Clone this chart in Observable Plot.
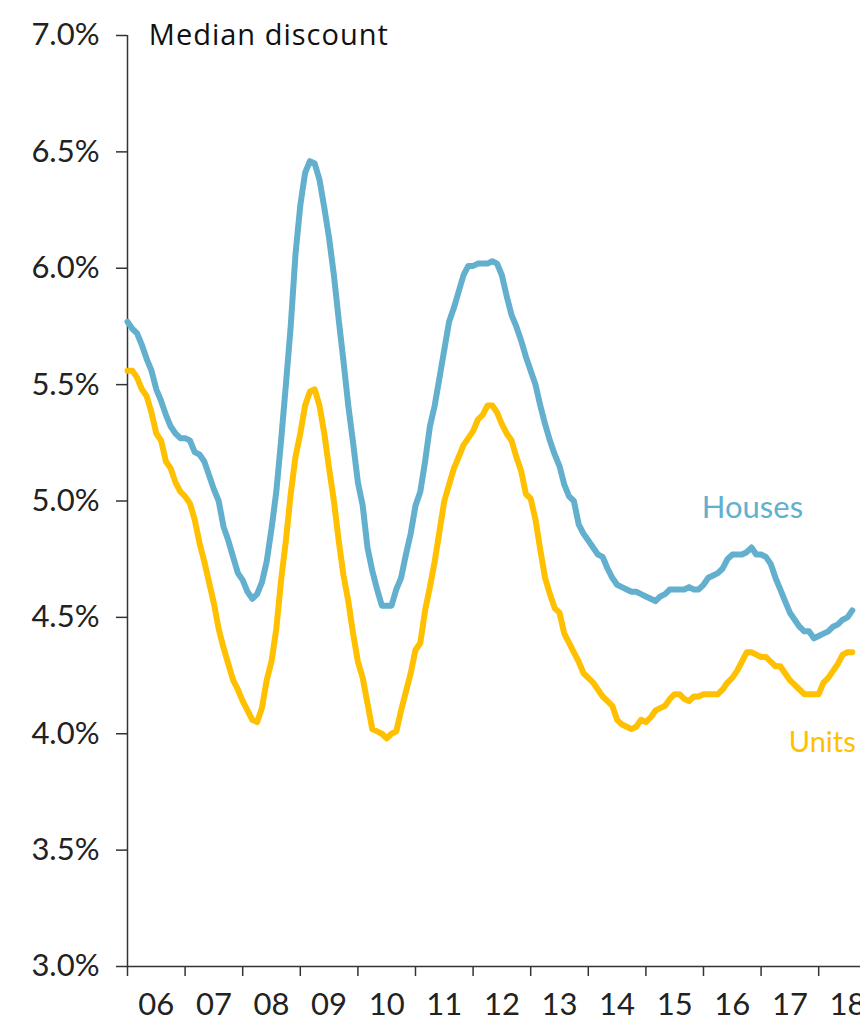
<!DOCTYPE html>
<html><head><meta charset="utf-8">
<script src="https://cdn.jsdelivr.net/npm/d3@7"></script>
<script src="https://cdn.jsdelivr.net/npm/@observablehq/plot@0.6"></script>
<style>body{margin:0;background:#fff} #chart svg{overflow:hidden;display:block} .title-text text{letter-spacing:1.0px}</style>
</head><body><div id="chart"></div>
<script>
// Monthly series starting January 2006 (median discount, %)
const startYear = 2006;
const houses = [
5.77,5.74,5.72,5.67,5.61,5.56,5.48,5.43,5.37,5.32,5.29,5.27,
5.27,5.26,5.21,5.20,5.17,5.11,5.05,5.00,4.89,4.83,4.76,4.69,
4.66,4.61,4.58,4.60,4.65,4.74,4.88,5.04,5.26,5.50,5.75,6.06,
6.27,6.41,6.46,6.45,6.38,6.26,6.13,5.97,5.78,5.60,5.41,5.25,
5.08,4.98,4.80,4.70,4.62,4.55,4.55,4.55,4.62,4.67,4.77,4.86,
4.98,5.04,5.17,5.32,5.41,5.53,5.65,5.77,5.83,5.90,5.97,6.01,
6.01,6.02,6.02,6.02,6.03,6.02,5.97,5.88,5.80,5.75,5.69,5.62,
5.56,5.50,5.41,5.33,5.26,5.20,5.15,5.07,5.02,5.00,4.90,4.86,
4.83,4.80,4.77,4.76,4.71,4.67,4.64,4.63,4.62,4.61,4.61,4.60,
4.59,4.58,4.57,4.59,4.60,4.62,4.62,4.62,4.62,4.63,4.62,4.62,
4.64,4.67,4.68,4.69,4.71,4.75,4.77,4.77,4.77,4.78,4.80,4.77,
4.77,4.76,4.73,4.67,4.62,4.57,4.52,4.49,4.46,4.44,4.44,4.41,
4.42,4.43,4.44,4.46,4.47,4.49,4.50,4.53
];
const units = [
5.56,5.56,5.53,5.48,5.45,5.38,5.29,5.26,5.17,5.14,5.08,5.04,
5.02,4.99,4.92,4.82,4.74,4.65,4.56,4.45,4.37,4.30,4.23,4.19,
4.14,4.10,4.06,4.05,4.11,4.23,4.31,4.45,4.66,4.83,5.03,5.19,
5.29,5.41,5.47,5.48,5.41,5.29,5.14,5.00,4.83,4.68,4.57,4.43,
4.31,4.24,4.13,4.02,4.01,4.00,3.98,4.00,4.01,4.10,4.18,4.26,
4.36,4.39,4.53,4.63,4.74,4.87,5.00,5.07,5.14,5.19,5.24,5.27,
5.30,5.35,5.37,5.41,5.41,5.38,5.33,5.29,5.26,5.19,5.13,5.03,
5.01,4.92,4.79,4.67,4.60,4.54,4.52,4.43,4.39,4.35,4.31,4.26,
4.24,4.22,4.19,4.16,4.14,4.12,4.06,4.04,4.03,4.02,4.03,4.06,
4.05,4.07,4.10,4.11,4.12,4.15,4.17,4.17,4.15,4.14,4.16,4.16,
4.17,4.17,4.17,4.17,4.19,4.22,4.24,4.27,4.31,4.35,4.35,4.34,
4.33,4.33,4.31,4.29,4.29,4.26,4.23,4.21,4.19,4.17,4.17,4.17,
4.17,4.22,4.24,4.27,4.30,4.34,4.35,4.35
];
const yearTicks = [2006,2007,2008,2009,2010,2011,2012,2013,2014,2015,2016,2017,2018];
const yearLabels = ["06","07","08","09","10","11","12","13","14","15","16","17","18"];
const yTicks = [3.0,3.5,4.0,4.5,5.0,5.5,6.0,6.5,7.0];
const seriesNames = ["Houses","Units"];
const seriesColors = ["#62AFCE","#FFC000"];
const housesLabel = {name:"Houses", t:2016.85, v:4.97};
const unitsLabel = {name:"Units", t:2017.48, v:3.96};
const title = "Median discount";

const rows = [];
houses.forEach((v,i)=>rows.push({series:"Houses", t:startYear + i/12, v}));
units.forEach((v,i)=>rows.push({series:"Units", t:startYear + i/12, v}));
const mids = yearTicks.map(y=>y+0.5);

const chart = Plot.plot({
  width: 860, height: 1021,
  marginLeft: 127, marginRight: 0, marginTop: 35, marginBottom: 55,
  style: {fontFamily: "Lato, 'Open Sans', sans-serif", fontSize: "31px", color: "#222", background: "#fff"},
  x: {domain: [2006, 2018.726]},
  y: {domain: [3, 7]},
  color: {domain: seriesNames, range: seriesColors},
  marks: [
    Plot.axisY({ticks: yTicks, tickFormat: d=>d.toFixed(1)+"%", tickSize: 11, tickPadding: 17, label: null, stroke:"#333", strokeWidth:1.5, fontSize: 31}),
    Plot.axisX({ticks: yearTicks, tickSize: 10, tickFormat: ()=>"", label: null, stroke:"#333", strokeWidth:1.5}),
    Plot.axisX({ticks: mids, tickSize: 0, tickPadding: 26, tickFormat: (d,i)=>yearLabels[i], label: null, fontSize: 31}),
    Plot.ruleX([2006], {stroke:"#333", strokeWidth:1.5}),
    Plot.ruleY([3], {stroke:"#333", strokeWidth:1.5}),
    Plot.line(rows, {x:"t", y:"v", z:"series", stroke:"series", strokeWidth:6, strokeLinejoin:"round", strokeLinecap:"round"}),
    Plot.text([housesLabel], {x:"t", y:"v", text:"name", fill: seriesColors[0], textAnchor:"middle", fontSize: 31}),
    Plot.text([unitsLabel], {x:"t", y:"v", text:"name", fill: seriesColors[1], textAnchor:"start", fontSize: 29}),
    Plot.text([title], {x:2006.37, y:7.0, text: d=>d, textAnchor:"start", fill:"#111", fontSize: 29, fontFamily: "'Open Sans', sans-serif", className: "title-text"})
  ]
});
document.getElementById("chart").appendChild(chart);
</script>
</body></html>
